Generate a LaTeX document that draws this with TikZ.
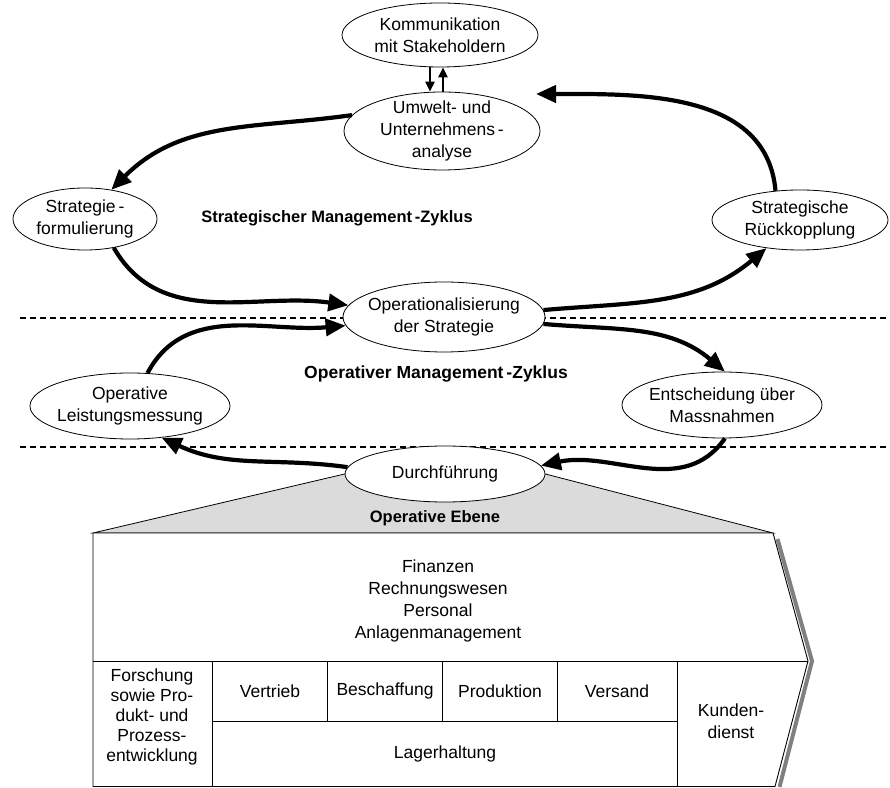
\documentclass[tikz,border=0pt]{standalone}
\usepackage{fontspec}
\setmainfont{Liberation Sans}
\usetikzlibrary{shapes.geometric,arrows.meta,backgrounds}

\begin{document}
\begin{tikzpicture}[
        x=1pt, y=1pt,
        font=\fontsize{17.5}{22}\selectfont,
        stage/.style={ellipse, draw, fill=white, line width=0.8pt, inner sep=0pt},
        every label/.style={align=center},
        cycle arrow/.style={-{Triangle[length=20pt,width=17pt]}, line width=4.2pt},
        talk arrow/.style={-{Triangle[length=10pt,width=9pt]}, line width=2.6pt},
        level line/.style={dash pattern=on 6pt off 4pt, line width=1.2pt},
        cyclename/.style={font=\bfseries\fontsize{16.5}{19}\selectfont},
        cell/.style={align=center},
        grid line/.style={line width=0.9pt}
    ]
    \useasboundingbox (0,0) rectangle (890,787);

    \draw[level line] (20,469) -- (890,469);
    \draw[level line] (20,340) -- (890,340);

    \node[stage, minimum width=196pt, minimum height=64pt,
        label={center:Kommunikation\\mit Stakeholdern}] (komm) at (440,752) {};
    \node[stage, minimum width=196pt, minimum height=78pt,
        label={center:Umwelt- und\\Unternehmens\,-\\analyse}] (umwelt) at (442,656) {};
    \node[stage, minimum width=144pt, minimum height=62pt,
        label={center:Strategie\,-\\formulierung}] (strat) at (85,568) {};
    \node[stage, minimum width=176pt, minimum height=60pt,
        label={center:Strategische\\Rückkopplung}] (rueck) at (800,567) {};
    \node[stage, minimum width=202pt, minimum height=70pt,
        label={center:Operationalisierung\\der Strategie}] (oper) at (444,470) {};
    \node[stage, minimum width=200pt, minimum height=66pt,
        label={center:Operative\\Leistungsmessung}] (leist) at (130,381) {};
    \node[stage, minimum width=200pt, minimum height=66pt,
        label={center:Entscheidung über\\Massnahmen}] (entsch) at (722,382) {};
    \node[stage, minimum width=200pt, minimum height=56pt,
        label={center:Durchführung}] (durch) at (445,313) {};
    \coordinate (umweltin) at (536,693);

    \node[cyclename] (stratzyk) at (337,569) {Strategischer Management\,-Zyklus};
    \node[cyclename, font=\bfseries\fontsize{17.5}{20}\selectfont] (operzyk) at (436,413) {Operativer Management\,-Zyklus};

    \draw[talk arrow] ([xshift=-10pt]komm.south) -- ([xshift=-12pt]umwelt.north);
    \draw[talk arrow] ([xshift=1pt]umwelt.north) -- ([xshift=3pt]komm.south);

    \draw[cycle arrow] (umwelt.170) to[out=188, in=45] (strat.48);
    \draw[cycle arrow] (strat.-45) to[out=-60, in=172] (oper.173);
    \draw[cycle arrow] (oper.4) to[out=5, in=220] (rueck.220);
    \draw[cycle arrow] (rueck.130) to[out=95, in=0] (umweltin);
    \draw[cycle arrow] (oper.-4) to[out=-5, in=140] (entsch.85);
    \draw[cycle arrow] (entsch.-85) to[out=-125, in=12] (durch.5);
    \draw[cycle arrow] (durch.176) to[out=172, in=-25] (leist.-45);
    \draw[cycle arrow] (leist.62) to[out=62, in=185] (oper.185);

    \begin{scope}[on background layer]
        \draw[fill=black!14, line width=0.8pt] (durch.west) -- (93,254) -- (773,254) -- (durch.east) -- cycle;
    \end{scope}
    \node[cyclename] (ebene) at (435,269) {Operative Ebene};

    \draw[line width=4pt, black!50] (777.5,248) -- (812,126) -- (779.5,0);
    \draw[grid line, fill=white] (93,0.5) -- (93,254) -- (773,254) -- (808,126) -- (775,0.5) -- cycle;
    \draw[grid line] (93,126) -- (808,126);
    \draw[grid line] (212,0.5) -- (212,126);
    \draw[grid line] (677,0.5) -- (677,126);
    \draw[grid line] (212,66) -- (677,66);
    \foreach \x in {327,442,557}
        \draw[grid line] (\x,66) -- (\x,126);

    \node[cell] (finanz) at (438,186) {Finanzen\\Rechnungswesen\\Personal\\Anlagenmanagement};
    \node[cell, font=\fontsize{17.5}{20}\selectfont] (forsch) at (152,70) {Forschung\\sowie Pro-\\dukt- und\\Prozess-\\entwicklung};
    \node (vertrieb) at (270,96) {Vertrieb};
    \node (beschaff) at (385,96) {Beschaffung};
    \node (produkt) at (500,96) {Produktion};
    \node (versand) at (617,96) {Versand};
    \node (lager) at (445,33) {Lagerhaltung};
    \node[cell] (kunde) at (731,66) {Kunden-\\dienst};
\end{tikzpicture}
\end{document}
